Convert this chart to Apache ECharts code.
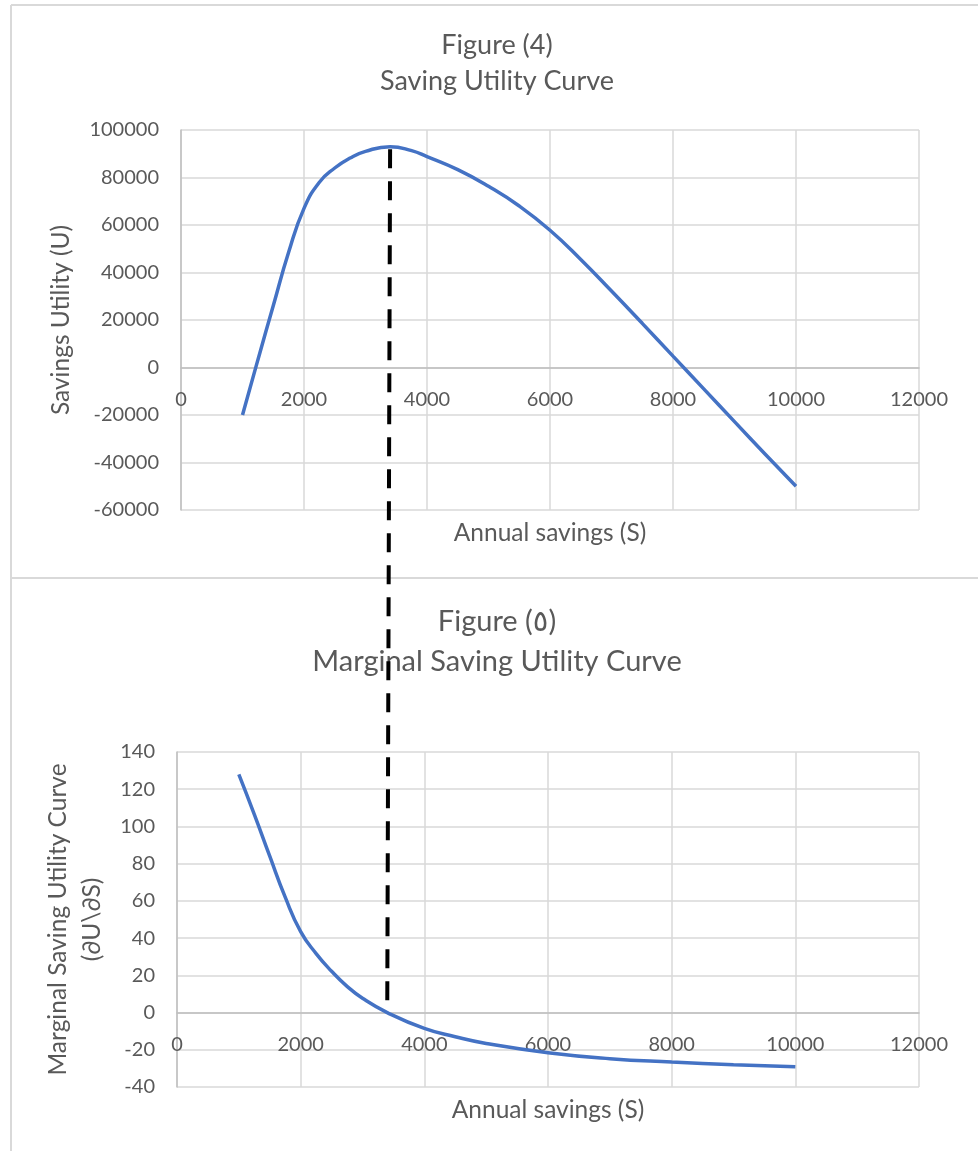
<!DOCTYPE html>
<html>
<head>
<meta charset="utf-8">
<script src="https://cdn.jsdelivr.net/npm/echarts@6/dist/echarts.min.js"></script>
<style>
html,body{margin:0;padding:0;background:#fff;}
#c{width:978px;height:1151px;}
</style>
</head>
<body>
<div id="c"></div>
<script>
// ---- data ----
const savingsS = [1000, 1250, 1500, 1750, 2000, 2250, 2500, 2750, 3000, 3400, 3750, 4000, 4500, 5000, 5500, 6000, 6500, 7000, 7500, 8000, 8500, 9000, 9500, 10000];
const utilityU = [-20000, 3200, 26000, 48500, 67000, 78000, 84000, 88200, 91000, 93000, 91300, 88800, 83300, 76300, 68000, 57800, 45500, 32200, 18600, 4800, -9000, -22800, -36500, -50000];
const marginalS = [1000, 1250, 1500, 1750, 2000, 2250, 2500, 2750, 3000, 3400, 4000, 4500, 5000, 6000, 7000, 8000, 9000, 10000];
const marginalU = [128, 106.5, 84, 62, 43.5, 31.7, 22.2, 14.1, 7.7, 0, -8.5, -13, -16.6, -21.6, -24.8, -26.6, -28, -29.1];
const optimumS = 3400;
const topTitle = ['Figure (4)', 'Saving Utility Curve'];
const bottomTitle = ['Figure (\u0665)', 'Marginal Saving Utility Curve'];
const xName = 'Annual savings (S)';
const yNameTop = 'Savings Utility (U)';
const yNameBottom = 'Marginal Saving Utility Curve\n(\u2202U\\\u2202S)';

const FONT = 'Lato, "Open Sans", "DejaVu Sans", sans-serif';
const TXT = '#595959';
const GRID = '#d9d9d9';
const AXIS = '#bfbfbf';
const BLUE = '#4472C4';

function xAxisCfg(gi, labelMargin) {
  return {
    type: 'value', gridIndex: gi, min: 0, max: 12000, interval: 2000,
    axisLine: { show: true, onZero: true, lineStyle: { color: AXIS, width: 1.5 } },
    axisTick: { show: false },
    axisLabel: { color: TXT, fontFamily: FONT, fontSize: 20, margin: labelMargin, showMinLabel: true, showMaxLabel: true, hideOverlap: false, formatter: v => String(v) },
    splitLine: { show: true, lineStyle: { color: GRID, width: 1.5 } }
  };
}
function yAxisCfg(gi, min, max, interval, name, gap) {
  return {
    type: 'value', gridIndex: gi, min: min, max: max, interval: interval,
    name: name, nameLocation: 'middle', nameGap: gap,
    nameTextStyle: { color: TXT, fontFamily: FONT, fontSize: 24.5, lineHeight: 34 },
    axisLine: { show: true, onZero: false, lineStyle: { color: AXIS, width: 1.5 } },
    axisTick: { show: false },
    axisLabel: { color: TXT, fontFamily: FONT, fontSize: 20, margin: 22, formatter: v => String(v) },
    splitLine: { show: true, lineStyle: { color: GRID, width: 1.5 } }
  };
}

const chart = echarts.init(document.getElementById('c'), null, { renderer: 'canvas' });

const option = {
  animation: false,
  backgroundColor: '#fff',
  grid: [
    { left: 181, right: 59, top: 130, height: 380 },
    { left: 177, right: 59, top: 752, height: 335 }
  ],
  xAxis: [xAxisCfg(0, 20), xAxisCfg(1, 20)],
  yAxis: [
    yAxisCfg(0, -60000, 100000, 20000, yNameTop, 93),
    yAxisCfg(1, -40, 140, 20, yNameBottom, 55)
  ],
  series: [
    {
      type: 'line', xAxisIndex: 0, yAxisIndex: 0,
      data: savingsS.map((s, i) => [s, utilityU[i]]),
      smooth: 0.5, showSymbol: false, symbol: 'none',
      lineStyle: { color: BLUE, width: 3.5 }
    },
    {
      type: 'line', xAxisIndex: 1, yAxisIndex: 1,
      data: marginalS.map((s, i) => [s, marginalU[i]]),
      smooth: 0.5, showSymbol: false, symbol: 'none',
      lineStyle: { color: BLUE, width: 3.5 }
    }
  ]
};
chart.setOption(option);

// Place x-axis tick labels just below the zero line (Excel "axis crosses at 0")
const zeroTop = chart.convertToPixel({ gridIndex: 0 }, [0, 0]);
const minTop = chart.convertToPixel({ gridIndex: 0 }, [0, -60000]);
const zeroBot = chart.convertToPixel({ gridIndex: 1 }, [0, 0]);
const minBot = chart.convertToPixel({ gridIndex: 1 }, [0, -40]);
chart.setOption({
  xAxis: [
    { axisLabel: { margin: -(minTop[1] - zeroTop[1]) + 22 } },
    { axisLabel: { margin: -(minBot[1] - zeroBot[1]) + 22 } }
  ]
});

const pTop = chart.convertToPixel({ gridIndex: 0 }, [optimumS, 91900]);
const pBot = chart.convertToPixel({ gridIndex: 1 }, [optimumS, 0]);
const xAxisTop = chart.convertToPixel({ gridIndex: 0 }, [6000, -60000]);
const xAxisBot = chart.convertToPixel({ gridIndex: 1 }, [6000, -40]);

function txt(x, y, text, size) {
  return {
    type: 'text', x: x, y: y, z: 10,
    style: { text: text, fill: TXT, font: size + 'px ' + FONT, align: 'center', verticalAlign: 'middle', textAlign: 'center', textVerticalAlign: 'middle' }
  };
}

chart.setOption({
  graphic: [
    { type: 'line', shape: { x1: 11, y1: 5, x2: 978, y2: 5 }, style: { stroke: GRID, lineWidth: 2 } },
    { type: 'line', shape: { x1: 11, y1: 5, x2: 11, y2: 1151 }, style: { stroke: GRID, lineWidth: 2 } },
    { type: 'line', shape: { x1: 11, y1: 578, x2: 978, y2: 578 }, style: { stroke: GRID, lineWidth: 2 } },
    txt(497, 45, topTitle[0], 27),
    txt(497, 81, topTitle[1], 27),
    txt(497, 622, bottomTitle[0], 29),
    txt(497, 662, bottomTitle[1], 29),
    txt(xAxisTop[0], 533, xName, 24.5),
    txt(xAxisBot[0], 1110, xName, 24.5),
    {
      type: 'line', z: 20,
      shape: { x1: pTop[0], y1: pTop[1], x2: pBot[0], y2: pBot[1] },
      style: { stroke: '#000', lineWidth: 4, lineDash: [19, 13] }
    }
  ]
});
</script>
</body>
</html>
